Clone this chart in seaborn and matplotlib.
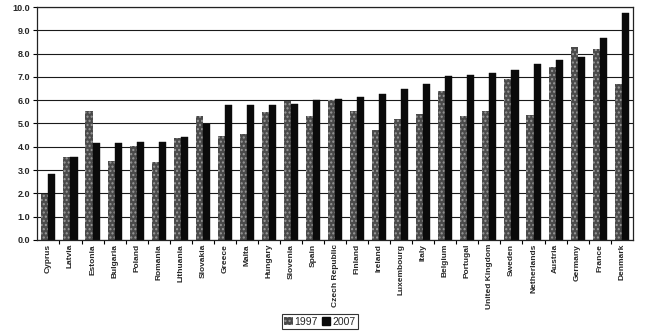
import matplotlib
matplotlib.use("Agg")
import matplotlib.pyplot as plt
import matplotlib.patches as mpatches
import seaborn as sns
import pandas as pd

countries = ["Cyprus", "Latvia", "Estonia", "Bulgaria", "Poland", "Romania", "Lithuania",
             "Slovakia", "Greece", "Malta", "Hungary", "Slovenia", "Spain", "Czech Republic",
             "Finland", "Ireland", "Luxembourg", "Italy", "Belgium", "Portugal",
             "United Kingdom", "Sweden", "Netherlands", "Austria", "Germany", "France", "Denmark"]
values_1997 = [1.97, 3.55, 5.53, 3.40, 4.05, 3.36, 4.37, 5.30, 4.48, 4.53, 5.49, 5.95, 5.30, 6.02,
               5.52, 4.74, 5.20, 5.42, 6.38, 5.30, 5.52, 6.90, 5.37, 7.43, 8.29, 8.18, 6.70]
values_2007 = [2.83, 3.55, 4.17, 4.18, 4.20, 4.22, 4.44, 4.99, 5.80, 5.80, 5.80, 5.85, 5.99, 6.06,
               6.13, 6.28, 6.50, 6.71, 7.03, 7.07, 7.18, 7.31, 7.57, 7.72, 7.86, 8.65, 9.75]
years = ["1997", "2007"]
yticks = [0, 1, 2, 3, 4, 5, 6, 7, 8, 9, 10]

df = pd.DataFrame({
    "country": countries * 2,
    "value": values_1997 + values_2007,
    "year": [years[0]] * len(countries) + [years[1]] * len(countries),
})

sns.set_style("white")
plt.rcParams["font.family"] = ["Liberation Sans", "DejaVu Sans"]

fig = plt.figure(figsize=(6.45, 3.36), dpi=100)
ax = fig.add_axes([0.058, 0.286, 0.923, 0.693])

sns.barplot(data=df, x="country", y="value", hue="year", order=countries,
            hue_order=years, palette={"1997": "#4a4a4a", "2007": "#0a0a0a"},
            width=0.64, gap=0.0, saturation=1, ax=ax, legend=False, errorbar=None)

n = len(countries)
for i, p in enumerate(ax.patches[:2 * n]):
    if i < n:
        p.set_hatch("....")
        p.set_edgecolor("#9a9a9a")
        p.set_linewidth(0)
    else:
        p.set_edgecolor("#0a0a0a")
        p.set_linewidth(0.3)

ax.set_ylim(0, 10)
ax.set_xlim(-0.5, n - 0.5)
ax.set_yticks(yticks)
ax.set_yticklabels([f"{v:.1f}" for v in yticks], fontsize=6.5, fontweight="bold")
ax.yaxis.grid(True, color="#1a1a1a", linewidth=0.8)
ax.set_axisbelow(True)
ax.set_xticks(range(n))
ax.set_xticks([i + 0.5 for i in range(n - 1)], minor=True)
ax.set_xticklabels(countries, rotation=90, fontsize=6, fontweight="bold")
ax.tick_params(axis="x", which="major", length=0, pad=3)
ax.tick_params(axis="x", which="minor", length=3, width=0.8, color="black", bottom=True)
ax.tick_params(axis="y", length=3, width=0.8, color="black", left=True, pad=2)
for s in ax.spines.values():
    s.set_color("#222222")
    s.set_linewidth(0.9)
ax.set_xlabel("")
ax.set_ylabel("")

h1 = mpatches.Patch(facecolor="#4a4a4a", edgecolor="#9a9a9a", hatch="....", linewidth=0)
h2 = mpatches.Patch(facecolor="#0a0a0a", edgecolor="#0a0a0a")
leg = fig.legend([h1, h2], years, loc="center", bbox_to_anchor=(0.496, 0.042), ncol=2,
                 fontsize=7.5, frameon=True, fancybox=False, edgecolor="black",
                 handlelength=0.8, handleheight=0.8, handletextpad=0.2, columnspacing=0.4,
                 borderpad=0.25, borderaxespad=0)
leg.get_frame().set_linewidth(0.8)

fig.savefig("out.png", dpi=100)
